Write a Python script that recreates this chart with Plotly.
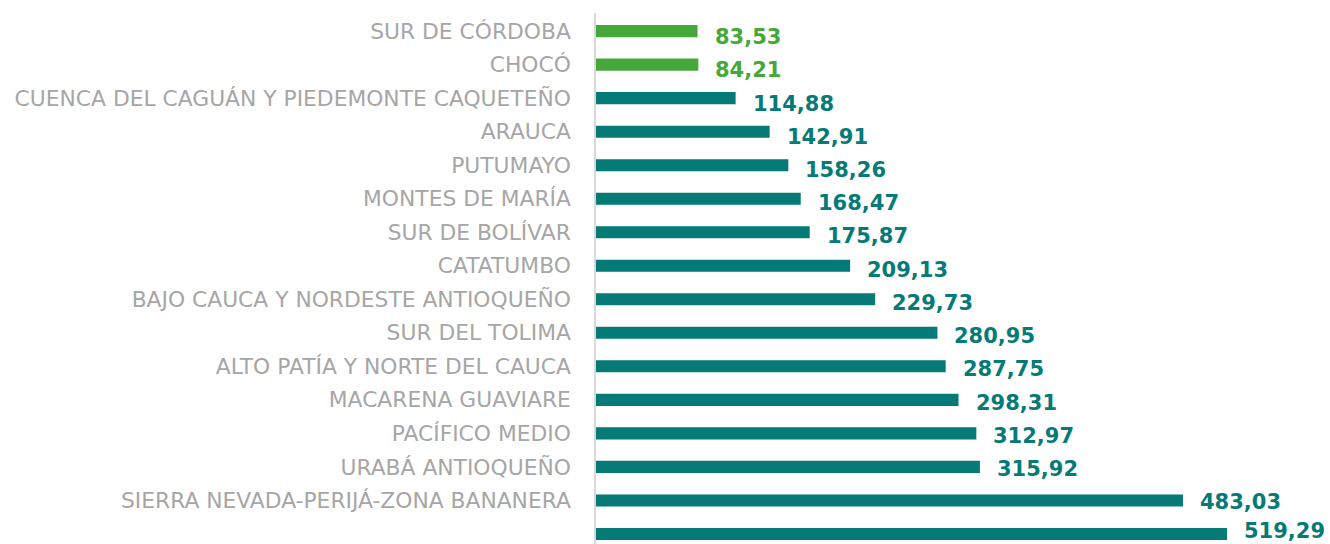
import plotly.graph_objects as go

categories = [
    "PACÍFICO Y FRONTERA NARIÑENSE",
    "SIERRA NEVADA-PERIJÁ-ZONA BANANERA",
    "URABÁ ANTIOQUEÑO",
    "PACÍFICO MEDIO",
    "MACARENA GUAVIARE",
    "ALTO PATÍA Y NORTE DEL CAUCA",
    "SUR DEL TOLIMA",
    "BAJO CAUCA Y NORDESTE ANTIOQUEÑO",
    "CATATUMBO",
    "SUR DE BOLÍVAR",
    "MONTES DE MARÍA",
    "PUTUMAYO",
    "ARAUCA",
    "CUENCA DEL CAGUÁN Y PIEDEMONTE CAQUETEÑO",
    "CHOCÓ",
    "SUR DE CÓRDOBA",
]
values = [519.29, 483.03, 315.92, 312.97, 298.31, 287.75, 280.95, 229.73,
          209.13, 175.87, 168.47, 158.26, 142.91, 114.88, 84.21, 83.53]
green_set = {"CHOCÓ", "SUR DE CÓRDOBA"}

TEAL = "#057A76"
GREEN = "#45A838"
colors = [GREEN if c in green_set else TEAL for c in categories]

fig = go.Figure()
fig.add_trace(go.Bar(
    x=values, y=list(range(len(categories))), orientation="h",
    marker=dict(color=colors, line=dict(width=0)),
    width=0.36, hoverinfo="skip",
))

for i, (c, v) in enumerate(zip(categories, values)):
    ys = -(1.5 + 0.3 * i) if i > 0 else 2.5
    fig.add_annotation(
        x=v, y=i, text=f"{v:.2f}".replace(".", ","), showarrow=False,
        xanchor="left", yanchor="middle", xshift=15, yshift=ys,
        font=dict(family="DejaVu Sans", size=21, color=colors[i], weight="bold"),
    )

fig.update_layout(
    width=1330, height=544,
    margin=dict(l=596, r=0, t=13, b=0, autoexpand=False),
    paper_bgcolor="white", plot_bgcolor="white",
    showlegend=False,
    xaxis=dict(range=[0, 604], visible=False, fixedrange=True),
    yaxis=dict(
        range=[-0.30, 15.54], automargin=False, fixedrange=True,
        tickmode="array", tickvals=list(range(len(categories))), ticktext=categories,
        showgrid=False, zeroline=False,
        showline=True, linecolor="#D9D9D9", linewidth=1.5,
        ticks="", ticklabelstandoff=19,
        tickfont=dict(family="DejaVu Sans", size=21.8, color="#A6A6A6"),
    ),
)

fig.write_html(
    "out.html",
    config={"displayModeBar": False},
    post_script="document.body.style.margin='0';document.body.style.overflow='hidden';",
)
